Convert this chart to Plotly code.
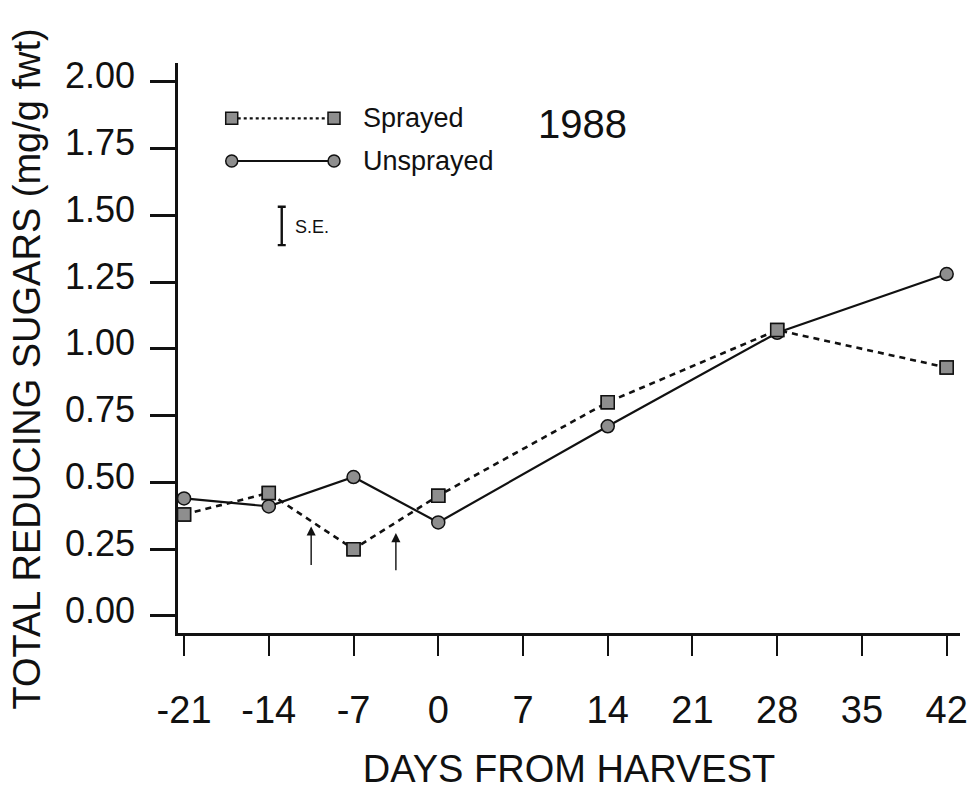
import plotly.graph_objects as go

# Days relative to harvest
days = [-21, -14, -7, 0, 14, 28, 42]

# Total reducing sugars (mg/g fresh weight)
sprayed = [0.38, 0.46, 0.25, 0.45, 0.80, 1.07, 0.93]
unsprayed = [0.44, 0.41, 0.52, 0.35, 0.71, 1.06, 1.28]

# Spray application dates (arrows) and standard error bar
spray_days = [-10.5, -3.5]
arrow_tail = [0.185, 0.165]
arrow_head = [0.335, 0.31]
se_value = 0.144

x_ticks = [-21, -14, -7, 0, 7, 14, 21, 28, 35, 42]
y_ticks = [0.0, 0.25, 0.5, 0.75, 1.0, 1.25, 1.5, 1.75, 2.0]

FONT = "Liberation Sans"
INK = "#111111"
MARK_FILL = "#8e8e8e"

fig = go.Figure()

fig.add_trace(go.Scatter(
    x=days, y=sprayed, mode="lines+markers", name="Sprayed",
    line=dict(color=INK, width=2.6, dash="6px,5px"),
    marker=dict(symbol="square", size=13, color=MARK_FILL,
                line=dict(color=INK, width=1.5)),
    showlegend=False,
))
fig.add_trace(go.Scatter(
    x=days, y=unsprayed, mode="lines+markers", name="Unsprayed",
    line=dict(color=INK, width=2.2),
    marker=dict(symbol="circle", size=13, color=MARK_FILL,
                line=dict(color=INK, width=1.5)),
    showlegend=False,
))
# draw sprayed markers on top where they overlap
fig.add_trace(go.Scatter(
    x=days, y=sprayed, mode="markers", hoverinfo="skip",
    marker=dict(symbol="square", size=13, color=MARK_FILL,
                line=dict(color=INK, width=1.5)),
    showlegend=False,
))

# S.E. bar
se_x = -12.93
se_center = 1.46
fig.add_trace(go.Scatter(
    x=[se_x], y=[se_center], mode="markers", hoverinfo="skip",
    marker=dict(size=1, color="rgba(0,0,0,0)"),
    error_y=dict(type="constant", value=se_value / 2, color=INK,
                 thickness=2.4, width=4),
    showlegend=False,
))

annotations = []
# spray arrows
for d, t, h in zip(spray_days, arrow_tail, arrow_head):
    annotations.append(dict(
        x=d, y=h, ax=d, ay=t, xref="x", yref="y", axref="x", ayref="y",
        showarrow=True, arrowhead=2, arrowsize=1.3, arrowwidth=1.4,
        arrowcolor=INK, text="", standoff=0,
    ))

annotations.append(dict(x=-12.0, y=1.455, xref="x", yref="y", text="S.E.",
                        showarrow=False, xanchor="left", yanchor="middle",
                        font=dict(family=FONT, size=18, color=INK)))
annotations.append(dict(x=11.9, y=1.841, xref="x", yref="y", text="1988",
                        showarrow=False, xanchor="center", yanchor="middle",
                        font=dict(family=FONT, size=40, color=INK)))

# vertical axis title
annotations.append(dict(x=-0.1925, y=0.463, xref="paper", yref="paper",
                        text="TOTAL REDUCING SUGARS (mg/g fwt)", textangle=-90,
                        showarrow=False, xanchor="center", yanchor="middle",
                        font=dict(family=FONT, size=38, color=INK)))

# custom legend: marker - line - marker, then label
leg_x0, leg_x1 = 0.0687, 0.1995
leg_rows = [
    ("Sprayed", 0.903, "square", dict(color=INK, width=2.2, dash="dot")),
    ("Unsprayed", 0.828, "circle", dict(color=INK, width=2)),
]
shapes = []
for label, yy, sym, ln in leg_rows:
    shapes.append(dict(type="line", xref="paper", yref="paper",
                       x0=leg_x0, x1=leg_x1, y0=yy, y1=yy, line=ln, layer="below"))
    for xx in (leg_x0, leg_x1):
        shapes.append(dict(
            type="rect" if sym == "square" else "circle",
            xref="paper", yref="paper", xsizemode="pixel", ysizemode="pixel",
            xanchor=xx, yanchor=yy, x0=-6, x1=6, y0=-6, y1=6,
            fillcolor=MARK_FILL, line=dict(color=INK, width=1.5),
        ))
    annotations.append(dict(x=leg_x1 + 0.035, y=yy, xref="paper", yref="paper",
                            text=label, showarrow=False, xanchor="left",
                            yanchor="middle",
                            font=dict(family=FONT, size=27, color=INK)))

fig.update_layout(
    width=971, height=790,
    margin=dict(l=178, r=11, t=63, b=157),
    paper_bgcolor="white", plot_bgcolor="white",
    font=dict(family=FONT, color=INK),
    shapes=shapes, annotations=annotations,
    xaxis=dict(
        range=[-21.5, 43.1], tickvals=x_ticks,
        ticktext=[str(v) for v in x_ticks],
        showgrid=False, zeroline=False, automargin=False,
        showline=True, linecolor=INK, linewidth=2.5,
        ticks="outside", ticklen=20, tickwidth=2.2, tickcolor=INK,
        tickfont=dict(family=FONT, size=38, color=INK),
        ticklabelstandoff=22,
        title=dict(text="DAYS FROM HARVEST", standoff=28,
                   font=dict(family=FONT, size=38, color=INK)),
    ),
    yaxis=dict(
        range=[-0.064, 2.07], tickvals=y_ticks,
        ticktext=[f"{v:.2f}" for v in y_ticks],
        showgrid=False, zeroline=False, automargin=False,
        showline=True, linecolor=INK, linewidth=2.5,
        ticks="outside", ticklen=25, tickwidth=2.5, tickcolor=INK,
        tickfont=dict(family=FONT, size=36, color=INK),
        ticklabelstandoff=8, ticklabelshift=-6,
    ),
)

fig.write_html("out.html")
